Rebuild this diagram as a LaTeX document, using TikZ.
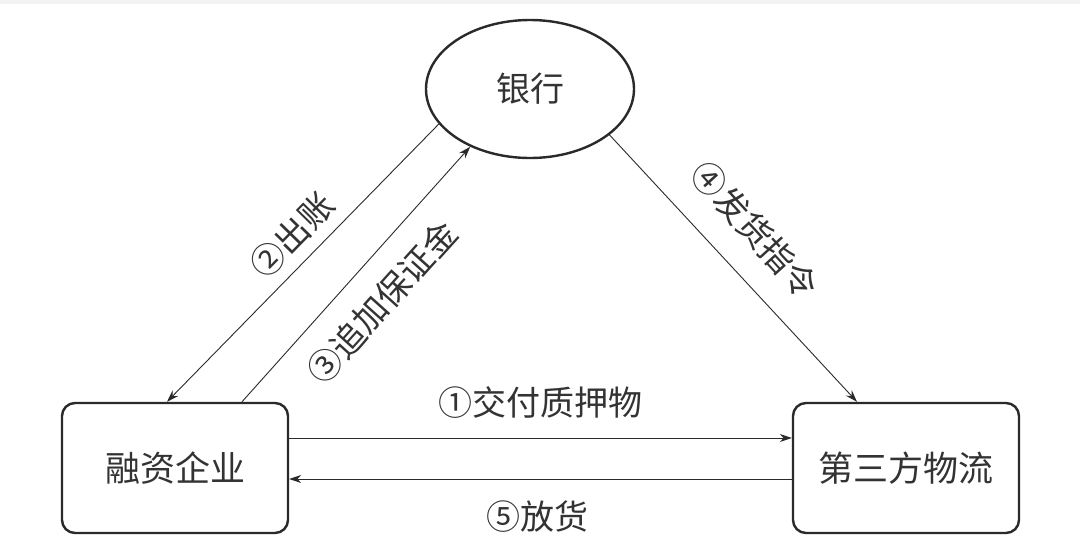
\documentclass[tikz,border=0pt]{standalone}
\usepackage{fontspec}
\setmainfont{Noto Sans CJK SC}
\usetikzlibrary{shapes.geometric,arrows.meta,calc}
\definecolor{ink}{HTML}{2A2A2A}
\definecolor{txt}{HTML}{333333}
\tikzset{
  party/.style={draw=ink, line width=2.4pt, rounded corners=13pt, minimum width=226pt, minimum height=130pt, inner sep=0pt, text=txt, font=\fontsize{35}{38}\selectfont},
  bank/.style={ellipse, draw=ink, line width=2.4pt, minimum width=208pt, minimum height=138pt, inner sep=0pt, text=txt, font=\fontsize{34}{36}\selectfont},
  flow/.style={draw=ink, line width=0.9pt, -{Stealth[length=12pt,width=8pt]}},
  lbl/.style={text=txt, inner sep=0pt, font=\fontsize{34}{36}\selectfont}
}
\begin{document}
\begin{tikzpicture}[x=1pt,y=-1pt]
\useasboundingbox (0,0) rectangle (1080,546);
\fill[white] (0,0) rectangle (1080,546);
\fill[black!5] (0,0) rectangle (1080,4);
\node[bank] (B) at (530,89) {银行};
\node[party] (L) at (175,468) {融资企业};
\node[party] (R) at (906,468) {第三方物流};
\draw[flow] (B.201) -- ([xshift=-8pt]L.north);
\draw[flow] ([xshift=67pt]L.north) -- (B.224);
\draw[flow] (B.330) -- ([xshift=-49pt]R.north);
\draw[flow] ([yshift=30pt]L.east) -- ([yshift=30pt]R.west);
\draw[flow] ([yshift=-11pt]R.west) -- ([yshift=-11pt]L.east);
\node[lbl, rotate=45.6] (l2) at (292,235) {②出账};
\node[lbl, rotate=48] (l3) at (382,302) {③追加保证金};
\node[lbl, rotate=-47.6] (l4) at (755,230) {④发货指令};
\node[lbl] (l1) at (540,403) {①交付质押物};
\node[lbl] (l5) at (537,517) {⑤放货};
\end{tikzpicture}
\end{document}
